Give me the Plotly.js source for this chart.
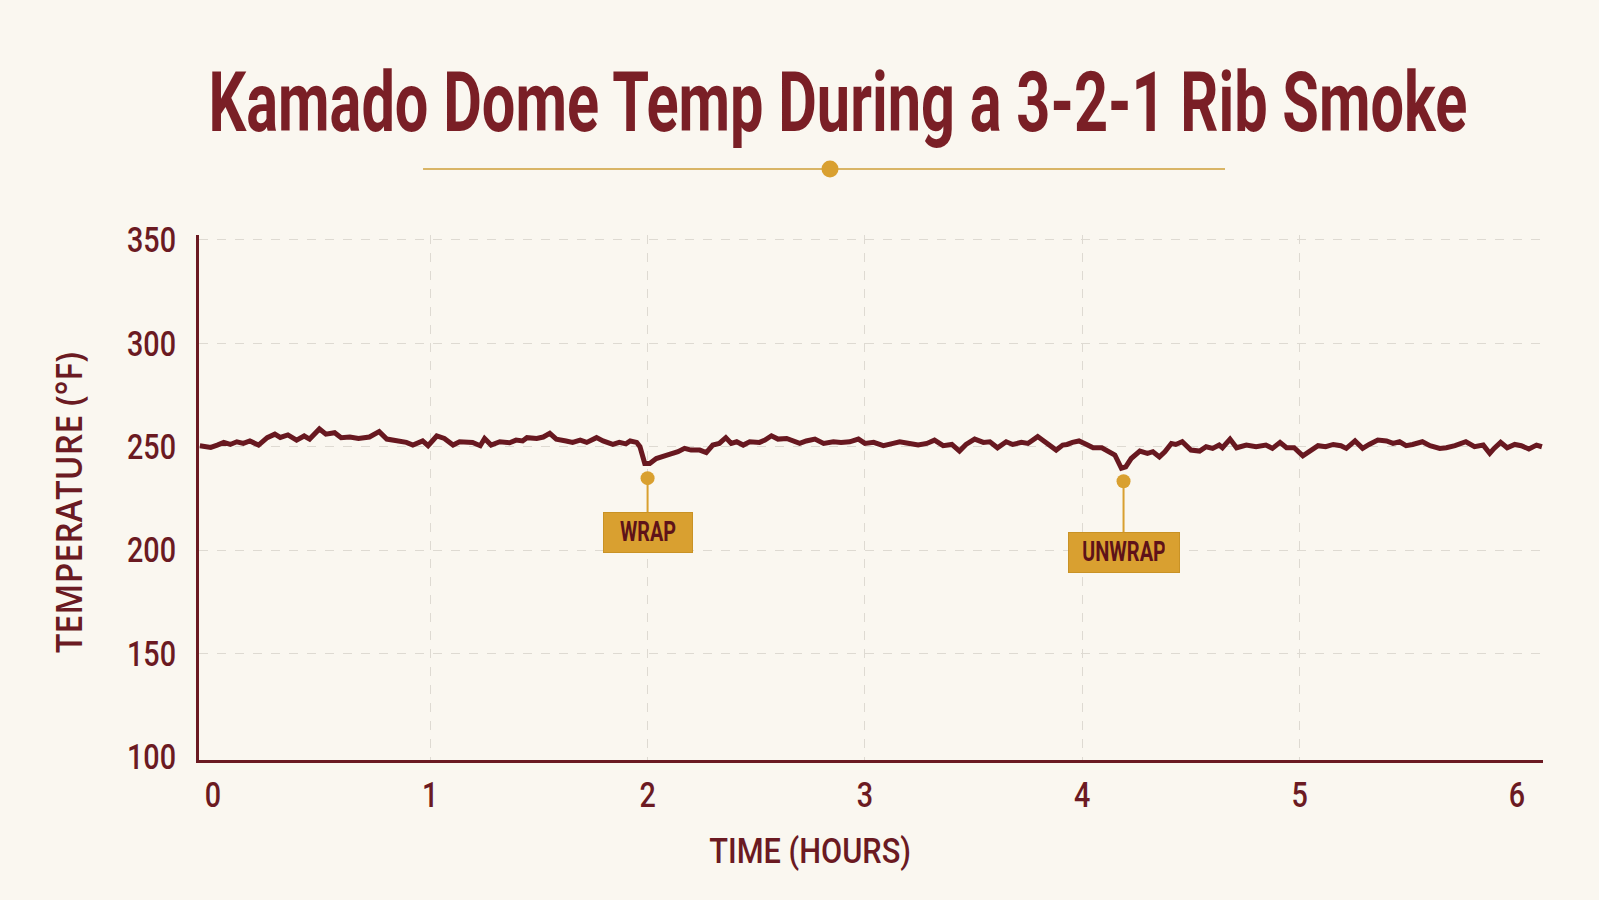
<!DOCTYPE html>
<html>
<head>
<meta charset="utf-8">
<script src="https://cdn.plot.ly/plotly-3.0.1.min.js"></script>
<style>
  html, body { margin: 0; padding: 0; background: #FAF7F0; }
  #chart { width: 1599px; height: 900px; }
</style>
</head>
<body>
<div id="chart"></div>
<script>
// Dome thermometer log, hours since the ribs went on
const hours = [
  -0.06, -0.01, 0.02, 0.05, 0.08, 0.11, 0.14, 0.17, 0.21, 0.25, 0.285, 0.31, 0.345, 0.385, 0.42, 0.445,
  0.49, 0.52, 0.56, 0.59, 0.63, 0.67, 0.72, 0.765, 0.80, 0.845, 0.89, 0.92, 0.965, 0.99, 1.03, 1.065,
  1.105, 1.135, 1.195, 1.23, 1.25, 1.28, 1.32, 1.365, 1.395, 1.425, 1.445, 1.49, 1.52, 1.55, 1.58, 1.625,
  1.655, 1.69, 1.72, 1.765, 1.795, 1.84, 1.87, 1.90, 1.92, 1.95, 1.965, 1.987, 2.01, 2.04, 2.07, 2.10,
  2.14, 2.17, 2.20, 2.24, 2.27, 2.30, 2.33, 2.36, 2.385, 2.41, 2.44, 2.47, 2.515, 2.54, 2.57, 2.60,
  2.64, 2.67, 2.70, 2.73, 2.77, 2.81, 2.855, 2.89, 2.93, 2.97, 3.00, 3.04, 3.085, 3.13, 3.16, 3.205,
  3.245, 3.285, 3.32, 3.36, 3.40, 3.435, 3.465, 3.505, 3.545, 3.575, 3.61, 3.65, 3.68, 3.72, 3.75, 3.795,
  3.835, 3.88, 3.91, 3.93, 3.955, 3.985, 4.02, 4.05, 4.09, 4.12, 4.15, 4.18, 4.20, 4.225, 4.265, 4.30,
  4.325, 4.355, 4.38, 4.41, 4.43, 4.46, 4.50, 4.54, 4.57, 4.60, 4.63, 4.645, 4.68, 4.71, 4.755, 4.80,
  4.845, 4.875, 4.91, 4.94, 4.975, 5.015, 5.055, 5.085, 5.12, 5.155, 5.19, 5.215, 5.255, 5.29, 5.32, 5.36,
  5.40, 5.43, 5.46, 5.49, 5.52, 5.565, 5.60, 5.645, 5.675, 5.715, 5.765, 5.805, 5.845, 5.875, 5.895, 5.925,
  5.955, 5.99, 6.02, 6.055, 6.09, 6.115
];
const domeTempF = [
  250.5, 249.7, 250.8, 252.1, 251.1, 252.4, 251.6, 252.8, 250.8, 254.4, 256.1, 254.5, 255.7, 253.2, 255.2, 253.7,
  258.6, 256.1, 256.8, 254.4, 254.7, 254.0, 254.7, 257.3, 253.7, 253.1, 252.1, 250.8, 252.8, 250.5, 255.2, 254.0,
  250.8, 252.4, 252.1, 250.5, 254.0, 250.8, 252.4, 251.9, 253.2, 252.8, 254.4, 254.0, 254.7, 256.5, 253.7, 252.8,
  252.1, 253.2, 252.1, 254.4, 252.8, 251.1, 252.1, 251.4, 252.8, 252.1, 250.0, 241.9, 241.9, 244.3, 245.6, 246.3,
  247.6, 249.2, 248.4, 248.4, 247.2, 250.8, 251.6, 254.4, 251.6, 252.4, 250.8, 252.4, 252.1, 253.2, 255.3, 253.7,
  254.0, 252.8, 251.6, 252.8, 253.7, 251.6, 252.4, 252.1, 252.4, 253.7, 251.6, 252.1, 250.5, 251.6, 252.4, 251.6,
  250.8, 251.6, 253.2, 250.5, 251.1, 247.9, 251.1, 253.7, 252.1, 252.4, 249.5, 252.4, 251.1, 252.1, 251.6, 254.9,
  251.6, 248.4, 250.8, 251.1, 252.1, 252.8, 251.1, 249.5, 249.5, 247.9, 246.0, 239.6, 240.3, 244.3, 247.9, 246.8,
  247.6, 245.1, 247.6, 251.6, 251.1, 252.4, 248.4, 247.9, 250.0, 249.2, 250.8, 249.5, 253.7, 249.5, 250.8, 250.0,
  250.8, 249.2, 252.1, 249.5, 249.5, 245.6, 248.4, 250.5, 250.0, 251.1, 250.5, 249.2, 252.8, 249.2, 251.1, 253.2,
  252.8, 251.6, 252.4, 250.5, 251.1, 252.4, 250.5, 249.2, 249.5, 250.5, 252.4, 250.0, 250.8, 246.8, 249.2, 252.1,
  249.5, 251.1, 250.5, 248.9, 250.8, 250.0
];

// Wrap / unwrap events (time in hours, where the marker sits, and its label)
const eventHours = [2.0, 4.19];
const eventMarkerTemps = [234.8, 233.3];
const eventLabels = ['WRAP', 'UNWRAP'];

const xTickVals = [0, 1, 2, 3, 4, 5, 6];
const yTickVals = [100, 150, 200, 250, 300, 350];

const BG = '#FAF7F0';
const MAROON = '#6B1A22';
const LINE_MAROON = '#681820';
const TITLE_RED = '#7A1F26';
const GOLD = '#D9A030';
const GOLD_LINE = '#D9B566';
const GRID = '#DEDAD2';
const COND = 'Roboto, "DejaVu Sans", sans-serif';

const traces = [
  {
    x: hours, y: domeTempF, type: 'scatter', mode: 'lines',
    line: { color: LINE_MAROON, width: 5 },
    hoverinfo: 'skip', showlegend: false
  },
  {
    x: eventHours, y: eventMarkerTemps, type: 'scatter', mode: 'markers',
    marker: { color: GOLD, size: 14 },
    cliponaxis: false, hoverinfo: 'skip', showlegend: false
  }
];

const eventBoxes = eventHours.map((h, i) => ({
  x: h, y: eventMarkerTemps[i], xref: 'x', yref: 'y',
  text: eventLabels[i],
  showarrow: true, arrowhead: 0, arrowwidth: 2, arrowcolor: GOLD,
  ax: 0, ay: i === 0 ? 54 : 71, standoff: 0,
  width: i === 0 ? 88 : 110, height: 39,
  bgcolor: GOLD, bordercolor: '#C99225', borderwidth: 1, borderpad: 0,
  font: { family: COND, size: 27, weight: 700, color: '#5E1219' },
  align: 'center', valign: 'middle'
}));

const layout = {
  width: 1599, height: 900,
  paper_bgcolor: BG, plot_bgcolor: BG,
  margin: { l: 199, r: 56, t: 235, b: 140 },
  title: {
    text: 'Kamado Dome Temp During a 3-2-1 Rib Smoke',
    x: 0.524, xanchor: 'center', y: 0.887, yanchor: 'middle',
    font: { family: COND, size: 84, weight: 700, color: TITLE_RED }
  },
  xaxis: {
    range: [-0.064, 6.12], tickvals: xTickVals, ticks: '',
    showgrid: false, zeroline: false,
    showline: true, linecolor: MAROON, linewidth: 3,
    tickfont: { family: COND, size: 35, weight: 500, color: MAROON },
    ticklabelstandoff: 2,
    minor: { tickvals: [1, 2, 3, 4, 5], showgrid: true, gridcolor: GRID, gridwidth: 1, griddash: 'dash', ticks: '' }
  },
  yaxis: {
    range: [98.5, 352.4], tickvals: yTickVals, ticks: '',
    showgrid: false, zeroline: false,
    showline: true, linecolor: MAROON, linewidth: 3,
    tickfont: { family: COND, size: 35, weight: 500, color: MAROON },
    ticklabelstandoff: 13,
    minor: { tickvals: [150, 200, 250, 300, 350], showgrid: true, gridcolor: GRID, gridwidth: 1, griddash: 'dash', ticks: '' }
  },
  shapes: [
    { type: 'line', xref: 'paper', yref: 'paper', x0: 0.1667, x1: 0.7634, y0: 1.1257, y1: 1.1257,
      line: { color: GOLD_LINE, width: 2 } },
    { type: 'circle', xref: 'paper', yref: 'paper', xsizemode: 'pixel', ysizemode: 'pixel',
      xanchor: 0.4695, yanchor: 1.1257, x0: -8.5, x1: 8.5, y0: -8.5, y1: 8.5,
      fillcolor: GOLD, line: { color: GOLD, width: 0 } }
  ],
  annotations: [
    { text: 'TEMPERATURE (°F)', xref: 'paper', yref: 'paper', x: -0.0975, y: 0.491,
      xanchor: 'center', yanchor: 'middle', textangle: -90, showarrow: false,
      font: { family: '"Open Sans", sans-serif', size: 36, weight: 600, color: MAROON } },
    { text: 'TIME (HOURS)', xref: 'paper', yref: 'paper', x: 0.4546, y: -0.1733,
      xanchor: 'center', yanchor: 'middle', showarrow: false,
      font: { family: COND, size: 36, weight: 500, color: MAROON } }
  ].concat(eventBoxes)
};

// Narrow a text element horizontally (in its own writing direction), pivoting on its anchor
function squeeze(el, factor) {
  const bb = el.getBBox();
  const anchor = el.getAttribute('text-anchor') || 'start';
  const px = anchor === 'end' ? bb.x + bb.width : anchor === 'middle' ? bb.x + bb.width / 2 : bb.x;
  const prev = el.getAttribute('transform') || '';
  el.setAttribute('transform', prev + ' translate(' + px + ',0) scale(' + factor + ',1) translate(' + (-px) + ',0)');
}
function fitTo(el, width) {
  if (!el) return;
  const w = el.getBBox().width;
  if (w > 0) squeeze(el, width / w);
}

Plotly.newPlot('chart', traces, layout, { staticPlot: true }).then(gd => {
  fitTo(gd.querySelector('.gtitle'), 1259);

  const yt = Array.from(gd.querySelectorAll('.ytick text'));
  const ref = yt.find(t => t.textContent === '350') || yt[yt.length - 1];
  const tickFactor = 49 / ref.getBBox().width;
  gd.querySelectorAll('.xtick text, .ytick text').forEach(t => squeeze(t, tickFactor));

  const annTexts = Array.from(gd.querySelectorAll('.annotation-text'));
  const widths = { 'TEMPERATURE (°F)': 301, 'TIME (HOURS)': 202, 'WRAP': 56, 'UNWRAP': 84 };
  annTexts.forEach(t => {
    const w = widths[t.textContent.trim()];
    if (w) fitTo(t, w);
  });
});
</script>
</body>
</html>
